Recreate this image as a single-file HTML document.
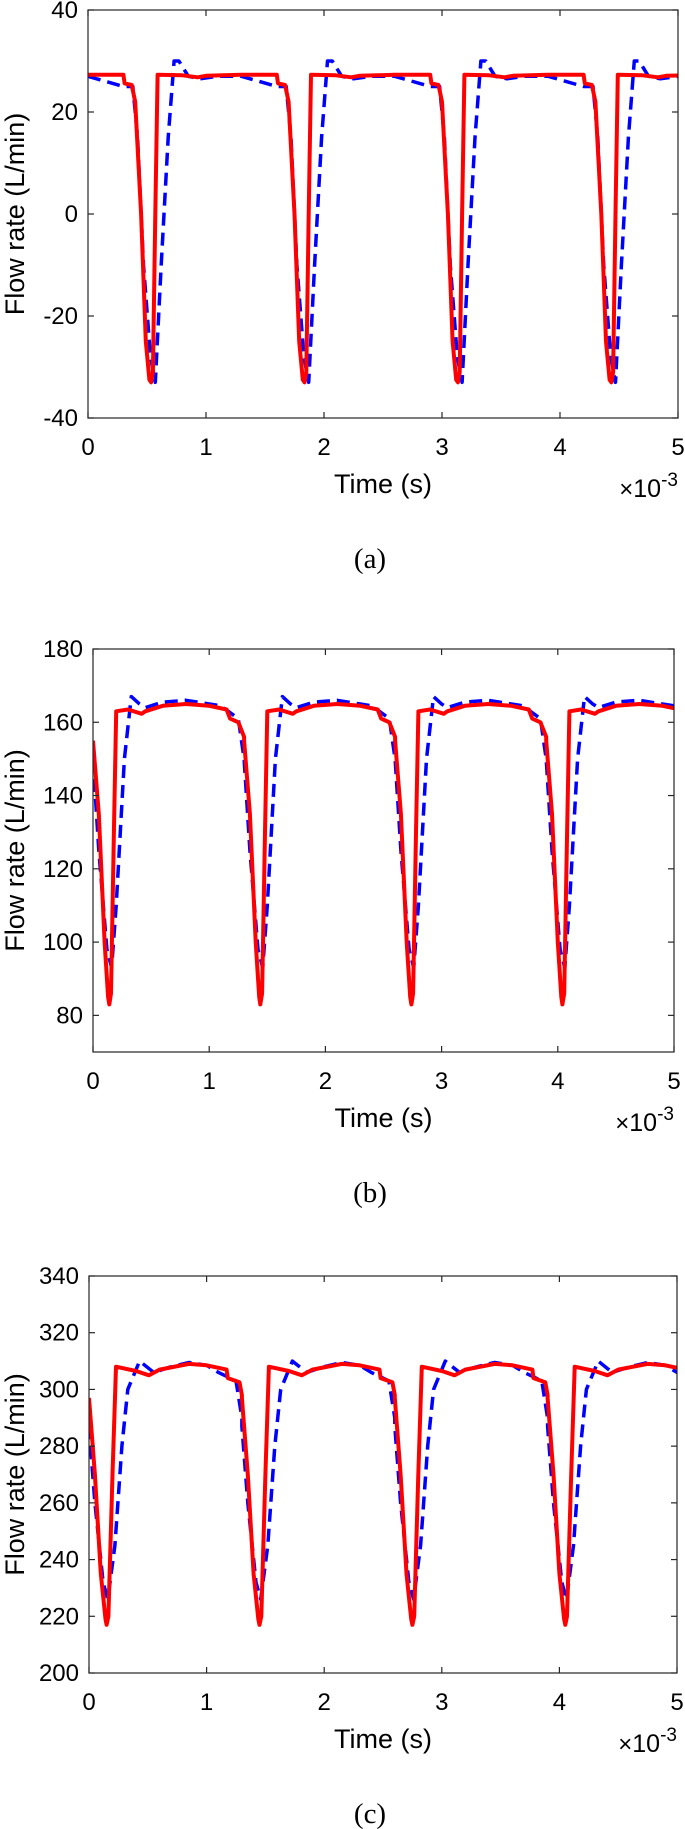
<!DOCTYPE html>
<html><head><meta charset="utf-8"><style>
html,body{margin:0;padding:0;background:#fff;}
svg{display:block;}
text{font-family:"Liberation Sans",Arial,sans-serif;fill:#000;}
.cap{font-family:"Liberation Serif","Times New Roman",serif;}
</style></head>
<body>
<svg id="fig" width="685" height="1829" viewBox="0 0 685 1829" xmlns="http://www.w3.org/2000/svg"></svg>
<script>
// ---------- data ----------
const xTicks = [0,1,2,3,4,5];
const cycleStarts = [0,1.3,2.6,3.9];
// panel a
const aYTicks = [-40,-20,0,20,40];
const aRedT = [0,0.3,0.31,0.37,0.40,0.45,0.49,0.52,0.535,0.55,0.57,0.59,0.8,0.93,1.0,1.3];
const aRedV = [27.3,27.3,25.6,25.3,22,0,-25,-32.5,-33,-31,0,27.3,27.2,26.8,27.1,27.3];
const aBlueT = [0,0.3,0.38,0.42,0.47,0.53,0.57,0.62,0.68,0.73,0.77,0.85,0.95,1.1,1.3];
const aBlueV = [27,25,25,15,-10,-28,-33,-10,15,30,30,27,26.5,27,27];
// panel b
const bYTicks = [80,100,120,140,160,180];
const bRedT = [0,0.05,0.1,0.13,0.14,0.155,0.18,0.2,0.3,0.42,0.45,0.6,0.8,1.0,1.15,1.18,1.25,1.3];
const bRedV = [155,135,100,85,83,86,130,163,163.5,162.3,163,164.5,165,164.5,163.5,161,160,156];
const bBlueT = [0,0.05,0.12,0.16,0.2,0.27,0.33,0.4,0.45,0.6,0.8,1.0,1.1,1.25,1.3];
const bBlueV = [150,125,98,93,110,150,167,165,164,165.5,166,165,164.5,161,150];
// panel c
const cYTicks = [200,220,240,260,280,300,320,340];
const cRedT = [0,0.05,0.1,0.14,0.15,0.165,0.2,0.23,0.4,0.51,0.6,0.85,1.0,1.17,1.18,1.28,1.3];
const cRedV = [297,270,235,219,217,220,270,308,306.5,305,307,309,308.5,307,304,302.5,298];
const cBlueT = [0,0.05,0.12,0.16,0.22,0.28,0.33,0.43,0.55,0.7,0.85,1.0,1.1,1.25,1.3];
const cBlueV = [287,260,232,226,245,280,300,310,306,308,309.5,308.5,306,303,290];

const NS='http://www.w3.org/2000/svg';
const svg=document.getElementById('fig');
function mk(tag,attrs,parent){const e=document.createElementNS(NS,tag);for(const k in attrs)e.setAttribute(k,attrs[k]);(parent||svg).appendChild(e);return e;}

function panel(cfg){
  const {id,L,R,T,B,ymin,ymax,yTicks,redT,redV,blueT,blueV,cap}=cfg;
  const g=mk('g',{});
  
  
  const sx=v=>L+(v-0)/(5-0)*(R-L);
  const sy=v=>B-(v-ymin)/(ymax-ymin)*(B-T);
  const clip=mk('clipPath',{id:'clip'+id},g);
  mk('rect',{x:L,y:T,width:R-L,height:B-T},clip);
  function series(tArr,vArr,name,style){
    let d='';
    cycleStarts.forEach(s=>{tArr.forEach((t,i)=>{d+=(d===''?'M':'L')+sx(s+t).toFixed(1)+','+sy(vArr[i]).toFixed(1);});});
    const p=mk('path',Object.assign({d:d,fill:'none','clip-path':'url(#clip'+id+')','stroke-linejoin':'round'},style),g);
    
    
  }
  series(blueT,blueV,'blue-dashed-series-'+id,{stroke:'#0000ff','stroke-width':3.5,'stroke-dasharray':'13 7'});
  series(redT,redV,'red-solid-series-'+id,{stroke:'#ff0000','stroke-width':4});
  const box=mk('rect',{x:L,y:T,width:R-L,height:B-T,fill:'none',stroke:'#262626','stroke-width':1.2},g);
  
  
  xTicks.forEach(v=>{
    const x=sx(v);
    mk('line',{x1:x,y1:B,x2:x,y2:B-6,stroke:'#262626','stroke-width':1.2},g);
    mk('line',{x1:x,y1:T,x2:x,y2:T+6,stroke:'#262626','stroke-width':1.2},g);
    const t=mk('text',{x:x,y:B+37,'text-anchor':'middle','font-size':24},g);
    t.textContent=v;
    
    
  });
  yTicks.forEach(v=>{
    const y=sy(v);
    mk('line',{x1:L,y1:y,x2:L+6,y2:y,stroke:'#262626','stroke-width':1.2},g);
    mk('line',{x1:R,y1:y,x2:R-6,y2:y,stroke:'#262626','stroke-width':1.2},g);
    const t=mk('text',{x:L-10,y:y+8,'text-anchor':'end','font-size':24},g);
    t.textContent=v;
    
    
  });
  const xl=mk('text',{x:(L+R)/2,y:B+75,'text-anchor':'middle','font-size':27},g);
  xl.textContent='Time (s)';
  
  
  const ex=mk('text',{x:R,y:B+79,'text-anchor':'end','font-size':25},g);
  ex.innerHTML='<tspan font-size="24">×</tspan>10<tspan dy="-11" font-size="19">-3</tspan>';
  
  
  const cy=(T+B)/2;
  const yl=mk('text',{x:24,y:cy,'text-anchor':'middle','font-size':27,transform:'rotate(-90 24 '+cy+')'},g);
  yl.textContent='Flow rate (L/min)';
  
  
  const c=mk('text',{x:370,y:B+150,'text-anchor':'middle','font-size':29,'class':'cap'},g);
  c.textContent=cap;
  
  
}
panel({id:'a',L:88,R:678,T:10,B:418,ymin:-40,ymax:40,yTicks:aYTicks,redT:aRedT,redV:aRedV,blueT:aBlueT,blueV:aBlueV,cap:'(a)'});
panel({id:'b',L:93,R:674,T:649,B:1052,ymin:70,ymax:180,yTicks:bYTicks,redT:bRedT,redV:bRedV,blueT:bBlueT,blueV:bBlueV,cap:'(b)'});
panel({id:'c',L:89,R:677,T:1276,B:1673,ymin:200,ymax:340,yTicks:cYTicks,redT:cRedT,redV:cRedV,blueT:cBlueT,blueV:cBlueV,cap:'(c)'});
</script>
</body></html>
